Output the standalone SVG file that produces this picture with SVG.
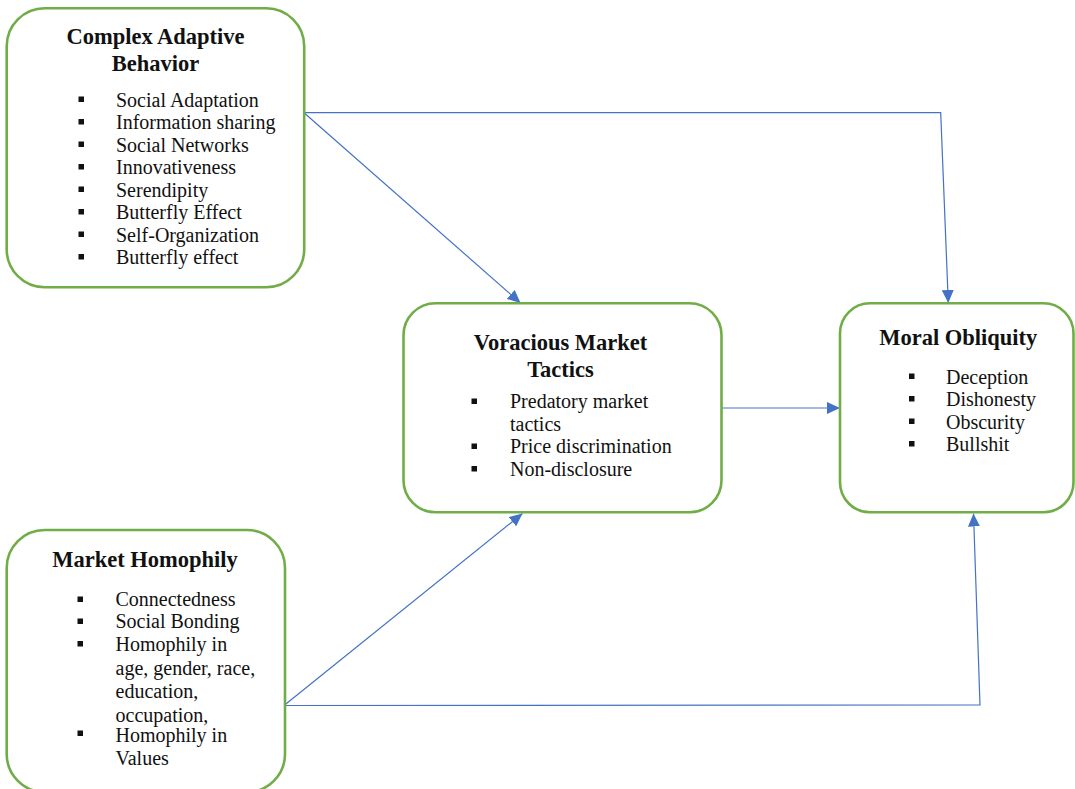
<svg xmlns="http://www.w3.org/2000/svg" width="1075" height="789" viewBox="0 0 1075 789">
<style>
.box{fill:#fff;stroke:#70AD47;stroke-width:2.6}
.t{font-family:"Liberation Serif","Times New Roman",serif;font-weight:bold;font-size:22.5px;fill:#111;text-anchor:middle}
.i{font-family:"Liberation Serif","Times New Roman",serif;font-size:20px;fill:#111}
.b{fill:#111}
.c{fill:none;stroke:#4472C4;stroke-width:1.2}
</style>
<defs>
<marker id="ah" markerUnits="userSpaceOnUse" markerWidth="14" markerHeight="12" refX="13" refY="6" orient="auto">
<path d="M0,0 L13,6 L0,12 z" fill="#4472C4"/>
</marker>
</defs>
<rect width="1075" height="789" fill="#fff"/>
<g id="connectors">
<polyline class="c" points="304,112.7 940.7,112.7 948.3,303" marker-end="url(#ah)"/>
<line class="c" x1="304" y1="112.7" x2="520.5" y2="303" marker-end="url(#ah)"/>
<line class="c" x1="721.5" y1="408" x2="840" y2="408" marker-end="url(#ah)"/>
<line class="c" x1="284" y1="705.5" x2="522.5" y2="513.5" marker-end="url(#ah)"/>
<polyline class="c" points="284,705.5 980,705 973.5,513.5" marker-end="url(#ah)"/>
</g>
<g id="complex-adaptive-behavior">
<rect class="box" x="6.7" y="8.3" width="297.5" height="279" rx="38" ry="38"/>
<text class="t" x="155.5" y="43.5">Complex Adaptive</text>
<text class="t" x="155.5" y="71">Behavior</text>
<rect class="b" x="78.5" y="96.5" width="5.5" height="5.5"/>
<rect class="b" x="78.5" y="119" width="5.5" height="5.5"/>
<rect class="b" x="78.5" y="141.5" width="5.5" height="5.5"/>
<rect class="b" x="78.5" y="164" width="5.5" height="5.5"/>
<rect class="b" x="78.5" y="186.5" width="5.5" height="5.5"/>
<rect class="b" x="78.5" y="209" width="5.5" height="5.5"/>
<rect class="b" x="78.5" y="231.5" width="5.5" height="5.5"/>
<rect class="b" x="78.5" y="254" width="5.5" height="5.5"/>
<text class="i" x="116" y="106.5">Social Adaptation</text>
<text class="i" x="116" y="129">Information sharing</text>
<text class="i" x="116" y="151.5">Social Networks</text>
<text class="i" x="116" y="174">Innovativeness</text>
<text class="i" x="116" y="196.5">Serendipity</text>
<text class="i" x="116" y="219">Butterfly Effect</text>
<text class="i" x="116" y="241.5">Self-Organization</text>
<text class="i" x="116" y="264">Butterfly effect</text>
</g>
<g id="voracious-market-tactics">
<rect class="box" x="403.5" y="303.3" width="318" height="209" rx="32" ry="32"/>
<text class="t" x="560.5" y="349.5">Voracious Market</text>
<text class="t" x="560.5" y="377">Tactics</text>
<rect class="b" x="471.5" y="398.5" width="5.5" height="5.5"/>
<rect class="b" x="471.5" y="443.5" width="5.5" height="5.5"/>
<rect class="b" x="471.5" y="466" width="5.5" height="5.5"/>
<text class="i" x="510" y="408.3">Predatory market</text>
<text class="i" x="510" y="430.8">tactics</text>
<text class="i" x="510" y="453.3">Price discrimination</text>
<text class="i" x="510" y="475.8">Non-disclosure</text>
</g>
<g id="moral-obliquity">
<rect class="box" x="840" y="303.3" width="233.5" height="209" rx="30" ry="30"/>
<text class="t" x="958.3" y="344.5">Moral Obliquity</text>
<rect class="b" x="909" y="373.5" width="5.5" height="5.5"/>
<rect class="b" x="909" y="396" width="5.5" height="5.5"/>
<rect class="b" x="909" y="418.5" width="5.5" height="5.5"/>
<rect class="b" x="909" y="441" width="5.5" height="5.5"/>
<text class="i" x="946" y="383.5">Deception</text>
<text class="i" x="946" y="406">Dishonesty</text>
<text class="i" x="946" y="428.5">Obscurity</text>
<text class="i" x="946" y="451">Bullshit</text>
</g>
<g id="market-homophily">
<rect class="box" x="6.7" y="530" width="278.3" height="262" rx="38" ry="38"/>
<text class="t" x="145" y="566.7">Market Homophily</text>
<rect class="b" x="77.5" y="596.5" width="5.5" height="5.5"/>
<rect class="b" x="77.5" y="618.5" width="5.5" height="5.5"/>
<rect class="b" x="77.5" y="641" width="5.5" height="5.5"/>
<rect class="b" x="77.5" y="730.5" width="5.5" height="5.5"/>
<text class="i" x="115.5" y="606">Connectedness</text>
<text class="i" x="115.5" y="628.3">Social Bonding</text>
<text class="i" x="115.5" y="650.7">Homophily in</text>
<text class="i" x="115.5" y="675">age, gender, race,</text>
<text class="i" x="115.5" y="698.3">education,</text>
<text class="i" x="115.5" y="721.7">occupation,</text>
<text class="i" x="115.5" y="741.7">Homophily in</text>
<text class="i" x="115.5" y="765">Values</text>
</g>
</svg>
